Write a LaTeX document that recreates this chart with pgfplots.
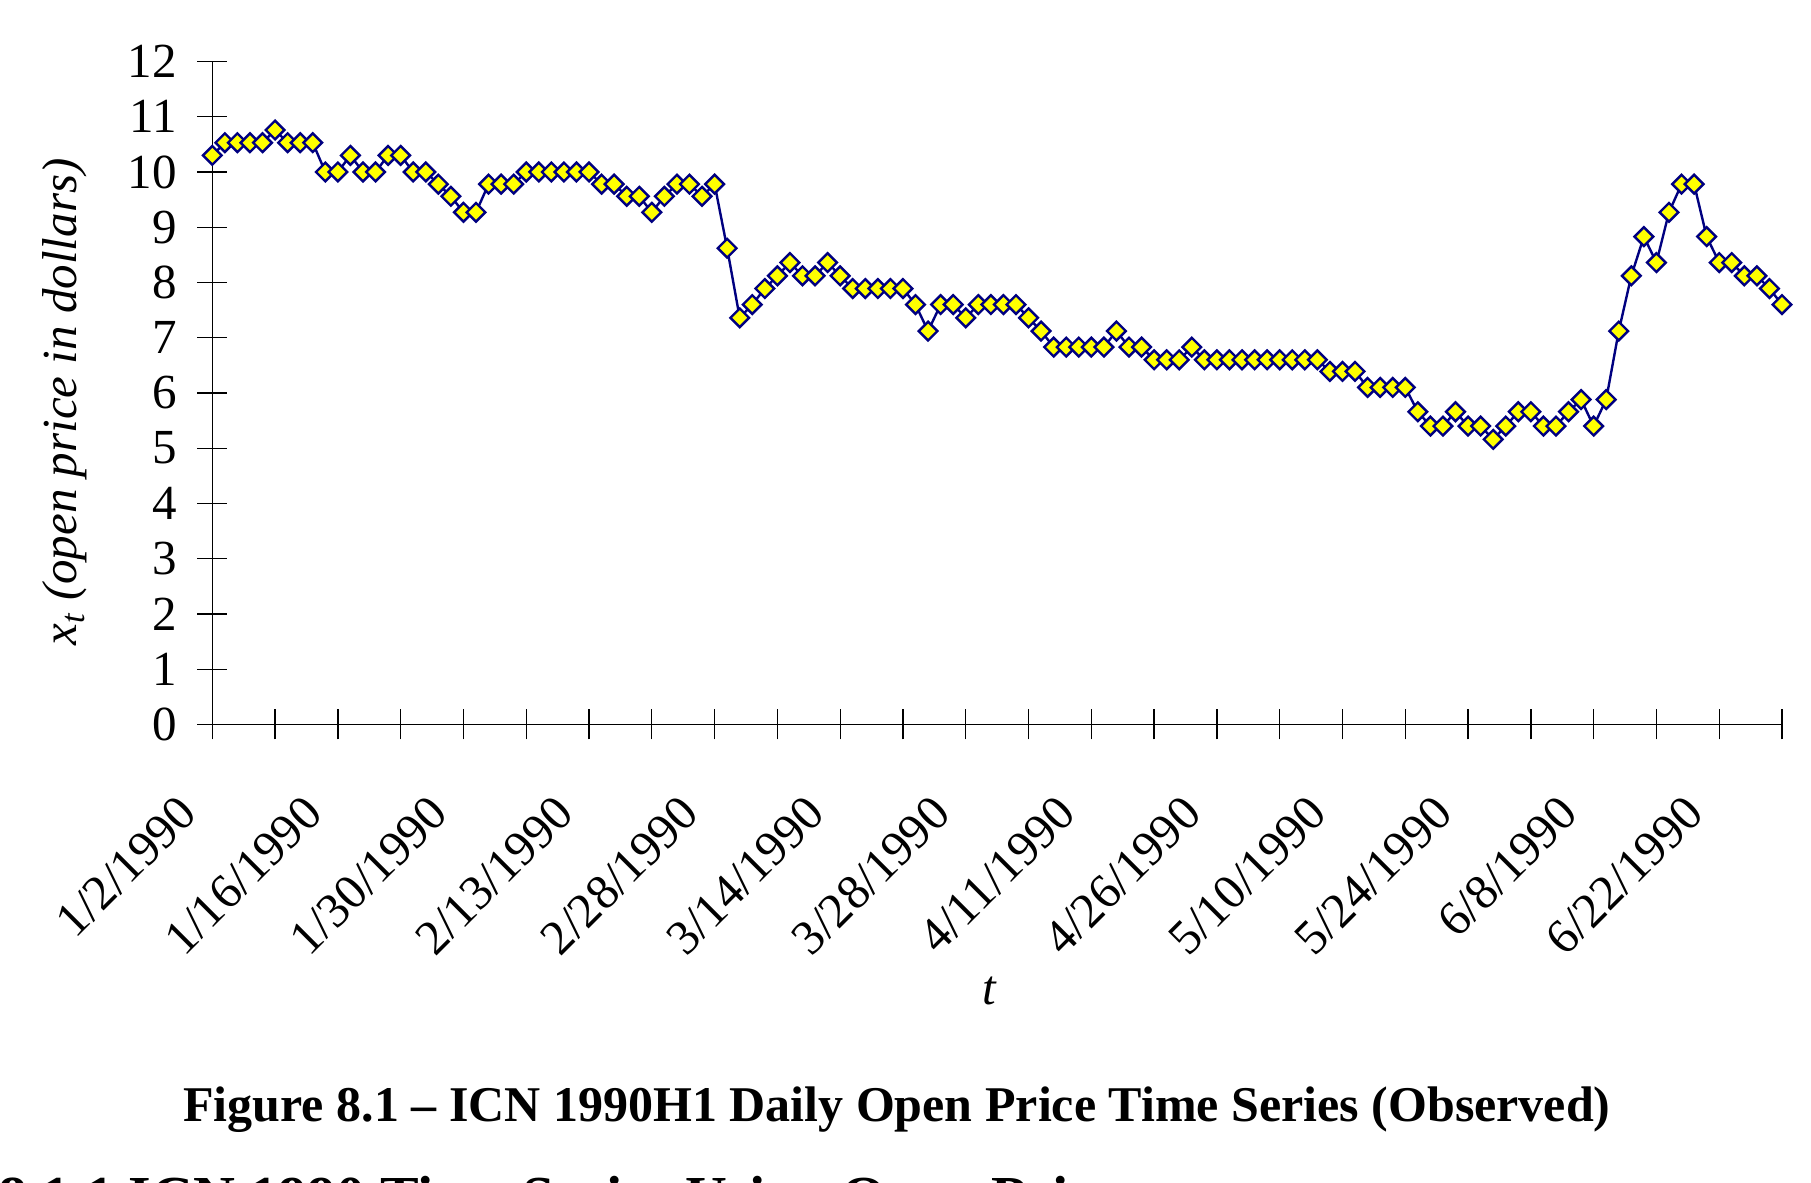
\documentclass[border=0pt]{standalone}
\usepackage{fontspec}
\setmainfont{Liberation Serif}
\usepackage{pgfplots}
\usepackage{pgfplotstable}
\pgfplotsset{compat=1.18}

\definecolor{seriesnavy}{RGB}{0,0,128}
\definecolor{markyellow}{RGB}{255,255,0}
\newcommand{\ticksize}{\fontsize{24.5pt}{29pt}\selectfont}

% ICN daily open price, first half of 1990 (trading day index, dollars)
\pgfplotstableread{
idx open
0 10.30
1 10.53
2 10.53
3 10.53
4 10.53
5 10.76
6 10.53
7 10.53
8 10.53
9 10.00
10 10.00
11 10.30
12 10.00
13 10.00
14 10.30
15 10.30
16 10.00
17 10.00
18 9.78
19 9.56
20 9.27
21 9.27
22 9.78
23 9.78
24 9.78
25 10.00
26 10.00
27 10.00
28 10.00
29 10.00
30 10.00
31 9.78
32 9.78
33 9.56
34 9.56
35 9.27
36 9.56
37 9.78
38 9.78
39 9.56
40 9.78
41 8.62
42 7.36
43 7.60
44 7.89
45 8.12
46 8.36
47 8.12
48 8.12
49 8.36
50 8.12
51 7.89
52 7.89
53 7.89
54 7.89
55 7.89
56 7.60
57 7.12
58 7.60
59 7.60
60 7.36
61 7.60
62 7.60
63 7.60
64 7.60
65 7.36
66 7.12
67 6.83
68 6.83
69 6.83
70 6.83
71 6.83
72 7.12
73 6.83
74 6.83
75 6.60
76 6.60
77 6.60
78 6.83
79 6.60
80 6.60
81 6.60
82 6.60
83 6.60
84 6.60
85 6.60
86 6.60
87 6.60
88 6.60
89 6.39
90 6.39
91 6.39
92 6.10
93 6.10
94 6.10
95 6.10
96 5.66
97 5.40
98 5.40
99 5.66
100 5.40
101 5.40
102 5.16
103 5.40
104 5.66
105 5.66
106 5.40
107 5.40
108 5.66
109 5.88
110 5.40
111 5.88
112 7.12
113 8.12
114 8.83
115 8.36
116 9.27
117 9.78
118 9.78
119 8.83
120 8.36
121 8.36
122 8.12
123 8.12
124 7.89
125 7.60
}\icnopen

\begin{document}
\begin{tikzpicture}
\begin{axis}[
  at={(0pt,0pt)}, anchor=south west,
  scale only axis,
  width=784.85pt, height=331.45pt,
  xmin=0, xmax=125, ymin=0, ymax=12,
  axis lines=left,
  axis line style={-, line width=0.65pt, black},
  every tick/.style={black, line width=0.65pt},
  tick align=center,
  major tick length=15pt,
  minor tick length=15pt,
  xtick={0,10,...,120},
  minor xtick={5,15,...,125},
  xticklabels={1/2/1990,1/16/1990,1/30/1990,2/13/1990,2/28/1990,3/14/1990,3/28/1990,4/11/1990,4/26/1990,5/10/1990,5/24/1990,6/8/1990,6/22/1990},
  ytick={0,1,...,12},
  tick label style={font=\ticksize, inner sep=0pt},
  /pgf/number format/assume math mode=true,
  yticklabel style={anchor=east, xshift=-10.1pt},
  xticklabel style={xshift=-12.2pt, yshift=-32.8pt, rotate=45, anchor=east},
  xlabel={\textit{t}},
  ylabel={\textit{x\textsubscript{t} (open price in dollars)}},
  xlabel style={at={(axis description cs:0.4953,-0.4232)}, anchor=base, font=\ticksize},
  ylabel style={at={(axis description cs:-0.0938,0.4864)}, anchor=center, font=\ticksize},
  clip=false,
]
\addplot[seriesnavy, line width=1.2pt, mark=square*, mark size=3.3pt,
  mark options={rotate=45, fill=markyellow, draw=seriesnavy, line width=1.2pt}]
  table[x=idx, y=open] {\icnopen};
\end{axis}

\node[anchor=base, inner sep=0pt, font=\bfseries\fontsize{25pt}{30pt}\selectfont]
  at (342.35pt,-198.65pt) {Figure 8.1 -- ICN 1990H1 Daily Open Price Time Series (Observed)};
\node[anchor=base west, inner sep=0pt, font=\bfseries\fontsize{29pt}{35pt}\selectfont]
  at (-107.2pt,-246.2pt) {8.1.1 ICN 1990 Time Series Using Open Price};

\pgfresetboundingbox
\useasboundingbox (-106.15pt,-229.3pt) rectangle (799.35pt,362.2pt);
\end{tikzpicture}
\end{document}
